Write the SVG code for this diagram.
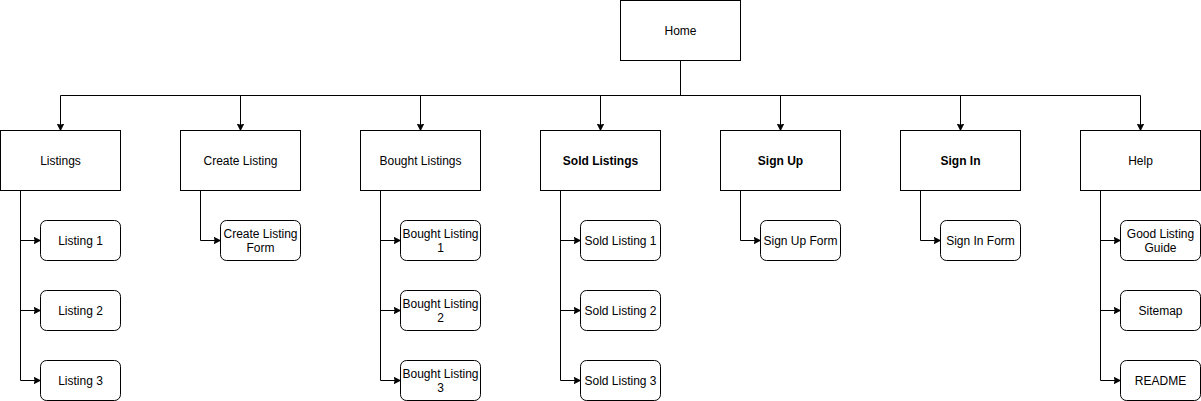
<svg xmlns="http://www.w3.org/2000/svg" width="1201" height="401" viewBox="0 0 1201 401">
<style>
.box{fill:#fff;stroke:#000;stroke-width:1}
.t{font-family:"Liberation Sans",Arial,sans-serif;font-size:12px;fill:#000;text-anchor:middle;dominant-baseline:central}
.b{font-weight:bold}
.c{fill:none;stroke:#000;stroke-width:1}
</style>
<defs>
<marker id="ah" viewBox="0 0 10 10" refX="10" refY="5" markerWidth="7" markerHeight="7" markerUnits="userSpaceOnUse" orient="auto">
<path d="M0,0 L10,5 L0,10 L2.5,5 Z" fill="#000" stroke="#000" stroke-width="1"/>
</marker>
</defs>
<rect width="1201" height="401" fill="#fff"/>
<g transform="translate(0.5,0.5)">
<g id="connectors">
<path class="c" d="M680,60 V95"/>
<path class="c" d="M60,95 H1140"/>
<path class="c" d="M60,95 V130" marker-end="url(#ah)"/>
<path class="c" d="M240,95 V130" marker-end="url(#ah)"/>
<path class="c" d="M420,95 V130" marker-end="url(#ah)"/>
<path class="c" d="M600,95 V130" marker-end="url(#ah)"/>
<path class="c" d="M780,95 V130" marker-end="url(#ah)"/>
<path class="c" d="M960,95 V130" marker-end="url(#ah)"/>
<path class="c" d="M1140,95 V130" marker-end="url(#ah)"/>
<path class="c" d="M20,190 V240 H40" marker-end="url(#ah)"/>
<path class="c" d="M20,190 V310 H40" marker-end="url(#ah)"/>
<path class="c" d="M20,190 V380 H40" marker-end="url(#ah)"/>
<path class="c" d="M200,190 V240 H220" marker-end="url(#ah)"/>
<path class="c" d="M380,190 V240 H400" marker-end="url(#ah)"/>
<path class="c" d="M380,190 V310 H400" marker-end="url(#ah)"/>
<path class="c" d="M380,190 V380 H400" marker-end="url(#ah)"/>
<path class="c" d="M560,190 V240 H580" marker-end="url(#ah)"/>
<path class="c" d="M560,190 V310 H580" marker-end="url(#ah)"/>
<path class="c" d="M560,190 V380 H580" marker-end="url(#ah)"/>
<path class="c" d="M740,190 V240 H760" marker-end="url(#ah)"/>
<path class="c" d="M920,190 V240 H940" marker-end="url(#ah)"/>
<path class="c" d="M1100,190 V240 H1120" marker-end="url(#ah)"/>
<path class="c" d="M1100,190 V310 H1120" marker-end="url(#ah)"/>
<path class="c" d="M1100,190 V380 H1120" marker-end="url(#ah)"/>
</g>
<g id="home"><rect class="box" x="620" y="0" width="120" height="60"/><text class="t" x="680" y="30">Home</text></g>
<g id="listings"><rect class="box" x="0" y="130" width="120" height="60"/><text class="t" x="60" y="160">Listings</text></g>
<g id="create-listing"><rect class="box" x="180" y="130" width="120" height="60"/><text class="t" x="240" y="160">Create Listing</text></g>
<g id="bought-listings"><rect class="box" x="360" y="130" width="120" height="60"/><text class="t" x="420" y="160">Bought Listings</text></g>
<g id="sold-listings"><rect class="box" x="540" y="130" width="120" height="60"/><text class="t b" x="600" y="160">Sold Listings</text></g>
<g id="sign-up"><rect class="box" x="720" y="130" width="120" height="60"/><text class="t b" x="780" y="160">Sign Up</text></g>
<g id="sign-in"><rect class="box" x="900" y="130" width="120" height="60"/><text class="t b" x="960" y="160">Sign In</text></g>
<g id="help"><rect class="box" x="1080" y="130" width="120" height="60"/><text class="t" x="1140" y="160">Help</text></g>

<g id="listing-1"><rect class="box" x="40" y="220" width="80" height="40" rx="6"/><text class="t" x="80" y="240">Listing 1</text></g>
<g id="listing-2"><rect class="box" x="40" y="290" width="80" height="40" rx="6"/><text class="t" x="80" y="310">Listing 2</text></g>
<g id="listing-3"><rect class="box" x="40" y="360" width="80" height="40" rx="6"/><text class="t" x="80" y="380">Listing 3</text></g>

<g id="create-listing-form"><rect class="box" x="220" y="220" width="80" height="40" rx="6"/><text class="t" x="260" y="233">Create Listing</text><text class="t" x="260" y="247">Form</text></g>

<g id="bought-listing-1"><rect class="box" x="400" y="220" width="80" height="40" rx="6"/><text class="t" x="440" y="233">Bought Listing</text><text class="t" x="440" y="247">1</text></g>
<g id="bought-listing-2"><rect class="box" x="400" y="290" width="80" height="40" rx="6"/><text class="t" x="440" y="303">Bought Listing</text><text class="t" x="440" y="317">2</text></g>
<g id="bought-listing-3"><rect class="box" x="400" y="360" width="80" height="40" rx="6"/><text class="t" x="440" y="373">Bought Listing</text><text class="t" x="440" y="387">3</text></g>

<g id="sold-listing-1"><rect class="box" x="580" y="220" width="80" height="40" rx="6"/><text class="t" x="620" y="240">Sold Listing 1</text></g>
<g id="sold-listing-2"><rect class="box" x="580" y="290" width="80" height="40" rx="6"/><text class="t" x="620" y="310">Sold Listing 2</text></g>
<g id="sold-listing-3"><rect class="box" x="580" y="360" width="80" height="40" rx="6"/><text class="t" x="620" y="380">Sold Listing 3</text></g>

<g id="sign-up-form"><rect class="box" x="760" y="220" width="80" height="40" rx="6"/><text class="t" x="800" y="240">Sign Up Form</text></g>
<g id="sign-in-form"><rect class="box" x="940" y="220" width="80" height="40" rx="6"/><text class="t" x="980" y="240">Sign In Form</text></g>

<g id="good-listing-guide"><rect class="box" x="1120" y="220" width="80" height="40" rx="6"/><text class="t" x="1160" y="233">Good Listing</text><text class="t" x="1160" y="247">Guide</text></g>
<g id="sitemap"><rect class="box" x="1120" y="290" width="80" height="40" rx="6"/><text class="t" x="1160" y="310">Sitemap</text></g>
<g id="readme"><rect class="box" x="1120" y="360" width="80" height="40" rx="6"/><text class="t" x="1160" y="380">README</text></g>
</g>
</svg>
